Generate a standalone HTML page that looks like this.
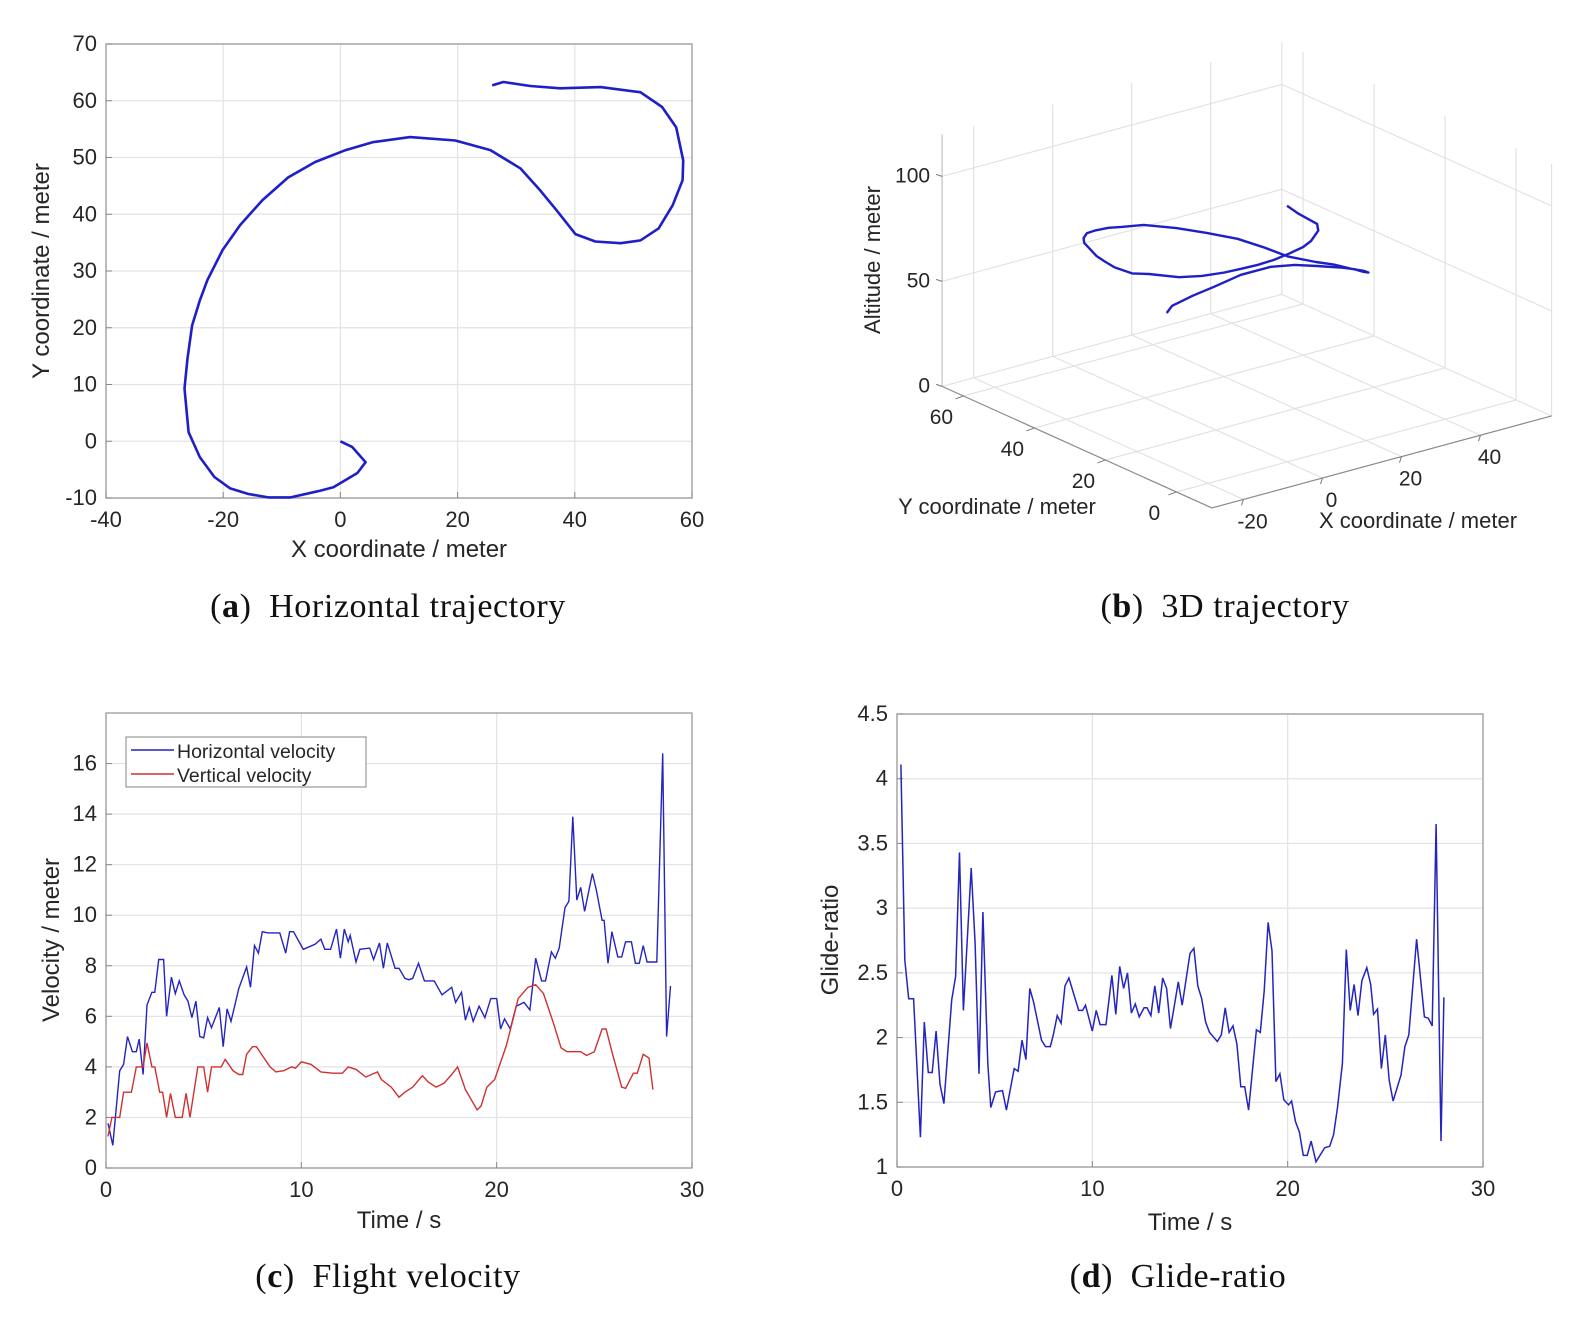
<!DOCTYPE html>
<html><head><meta charset="utf-8"><style>
html,body{margin:0;padding:0;background:#fff}
svg{display:block}
text{font-family:"Liberation Sans",sans-serif;fill:#262626}
.cap{font-family:"Liberation Serif",serif;font-size:34px;fill:#111;letter-spacing:0.6px}
</style></head><body>
<svg id="fig" width="1587" height="1334" viewBox="0 0 1587 1334" xmlns="http://www.w3.org/2000/svg"></svg>
<script>
// ---- Panel (a) horizontal trajectory data ----
const trajX=[0,2,4.3,2.9,-1.2,-3.8,-8.5,-12.3,-15.7,-18.8,-21.5,-24,-25.9,-26.6,-26.1,-25.3,-24,-22.7,-20.1,-17.1,-13.3,-8.9,-4.3,0.9,5.5,11.9,19.6,25.6,30.7,34.1,36.9,40.1,43.5,47.8,51.2,54.3,56.7,58.4,58.5,57.3,54.9,51.2,44.4,37.5,32.4,27.8,25.9];
const trajY=[0,-1,-3.7,-5.6,-8.1,-8.8,-9.9,-9.9,-9.3,-8.3,-6.3,-2.8,1.6,9.3,14.6,20.4,24.8,28.4,33.7,38.1,42.5,46.5,49.2,51.3,52.7,53.6,53,51.3,48.1,44.2,40.7,36.5,35.2,34.9,35.4,37.5,41.6,46,49.5,55.3,58.9,61.5,62.4,62.2,62.6,63.3,62.7];
const trajZ=[122,118,114,113,112,111,111,110,109,108,106,103,100,96,92,90,89,88,87,84,81,78,75,72,69,66,61,57,54,51,48,47,45,41,38,34,30,27,25,22,21,20,19,17,15,12,10];
const aXTicks=[-40,-20,0,20,40,60];
const aYTicks=[-10,0,10,20,30,40,50,60,70];
// ---- Panel (b) ticks ----
const bXTicks=[-20,0,20,40];
const bYTicks=[0,20,40,60];
const bZTicks=[0,50,100];
// ---- Panel (c) velocity data ----
const hvT=[0.1,0.35,0.7,0.9,1.1,1.35,1.55,1.7,1.9,2.1,2.35,2.5,2.7,2.95,3.1,3.35,3.55,3.75,4.0,4.2,4.4,4.6,4.8,5.0,5.2,5.4,5.8,6.0,6.2,6.4,6.8,7.2,7.4,7.6,7.8,8.0,8.3,8.9,9.2,9.4,9.6,10.1,10.7,11.0,11.2,11.5,11.8,12.0,12.2,12.4,12.5,12.8,13.0,13.5,13.7,14.0,14.2,14.4,14.8,15.0,15.3,15.5,15.7,16.0,16.3,16.8,17.2,17.7,17.9,18.2,18.4,18.6,18.8,19.1,19.4,19.7,20.0,20.2,20.4,20.7,21.0,21.4,21.7,22.0,22.3,22.5,22.8,23.0,23.2,23.5,23.7,23.9,24.1,24.3,24.5,24.9,25.1,25.4,25.5,25.7,25.9,26.2,26.4,26.6,26.9,27.1,27.3,27.5,27.7,28.2,28.5,28.7,28.9];
const hvV=[1.77,0.9,3.85,4.1,5.2,4.6,4.6,5.1,3.7,6.45,6.95,6.95,8.25,8.25,6.0,7.55,6.9,7.4,6.85,6.6,5.95,6.6,5.2,5.15,5.95,5.55,6.35,4.8,6.3,5.8,7.1,7.95,7.15,8.8,8.5,9.35,9.3,9.3,8.5,9.35,9.35,8.65,8.85,9.05,8.65,8.65,9.45,8.3,9.45,8.95,9.2,8.15,8.65,8.7,8.25,8.9,7.9,8.9,7.9,7.9,7.5,7.45,7.5,8.1,7.4,7.4,6.85,7.15,6.55,6.95,5.85,6.35,5.8,6.4,5.95,6.7,6.7,5.5,5.9,5.5,6.4,6.55,6.25,8.3,7.4,7.4,8.55,8.3,8.7,10.3,10.55,13.9,10.6,11.1,10.15,11.65,11.0,9.8,9.8,8.1,9.35,8.35,8.35,8.95,8.95,8.1,8.1,8.8,8.15,8.15,16.4,5.2,7.2];
const vvT=[0.1,0.3,0.7,0.9,1.3,1.55,1.9,2.1,2.35,2.5,2.75,2.9,3.1,3.3,3.55,3.9,4.1,4.3,4.7,5.0,5.2,5.4,5.9,6.1,6.5,6.8,7.0,7.2,7.5,7.7,8.0,8.4,8.7,9.1,9.5,9.7,10.0,10.5,11.0,11.6,12.1,12.4,12.8,13.3,13.9,14.1,14.6,15.0,15.3,15.7,16.2,16.5,16.9,17.3,17.7,18.0,18.4,19.0,19.2,19.5,19.9,20.5,21.1,21.6,22.0,22.4,22.9,23.3,23.6,23.9,24.3,24.6,25.0,25.4,25.6,25.9,26.4,26.6,27.0,27.2,27.5,27.8,28.0];
const vvV=[1.25,2.0,2.0,3.0,3.0,4.0,4.0,4.95,4.0,4.0,3.0,3.0,2.0,2.95,2.0,2.0,2.95,2.0,4.0,4.0,3.0,4.0,4.0,4.3,3.85,3.7,3.7,4.5,4.8,4.8,4.45,4.0,3.8,3.85,4.0,3.95,4.2,4.1,3.8,3.75,3.75,4.0,3.9,3.6,3.8,3.5,3.2,2.8,3.0,3.2,3.65,3.4,3.2,3.35,3.7,4.0,3.1,2.3,2.45,3.2,3.5,4.85,6.7,7.15,7.25,6.9,5.75,4.75,4.6,4.6,4.6,4.45,4.6,5.5,5.5,4.6,3.2,3.15,3.75,3.75,4.5,4.35,3.1];
const cXTicks=[0,10,20,30];
const cYTicks=[0,2,4,6,8,10,12,14,16];
// ---- Panel (d) glide ratio data ----
const grT=[0.2,0.4,0.6,0.85,1.2,1.4,1.6,1.8,2.0,2.2,2.4,2.8,3.0,3.2,3.4,3.8,4.0,4.2,4.4,4.65,4.8,5.05,5.4,5.6,6.0,6.2,6.4,6.6,6.8,7.0,7.4,7.6,7.85,8.0,8.2,8.4,8.6,8.8,9.3,9.5,9.65,10.0,10.2,10.4,10.7,11.0,11.2,11.4,11.6,11.8,12.0,12.2,12.4,12.65,12.8,13.0,13.2,13.4,13.6,13.8,14.0,14.2,14.4,14.6,15.0,15.2,15.4,15.6,15.8,16.0,16.4,16.6,16.8,17.0,17.2,17.4,17.6,17.8,18.0,18.4,18.6,18.8,19.0,19.2,19.4,19.6,19.8,20.05,20.2,20.4,20.6,20.8,21.0,21.2,21.45,21.9,22.15,22.35,22.55,22.8,23.0,23.2,23.4,23.6,23.8,24.05,24.25,24.4,24.6,24.8,25.0,25.2,25.4,25.8,26.0,26.2,26.6,27.0,27.2,27.4,27.6,27.85,28.0];
const grV=[4.11,2.6,2.3,2.3,1.23,2.12,1.73,1.73,2.05,1.64,1.49,2.29,2.47,3.43,2.21,3.31,2.73,1.72,2.97,1.8,1.46,1.58,1.59,1.44,1.76,1.74,1.98,1.83,2.38,2.27,1.98,1.93,1.93,2.02,2.17,2.11,2.4,2.46,2.21,2.21,2.25,2.05,2.21,2.1,2.1,2.48,2.18,2.55,2.38,2.5,2.19,2.26,2.16,2.23,2.23,2.17,2.4,2.19,2.46,2.38,2.07,2.25,2.43,2.25,2.65,2.69,2.4,2.3,2.12,2.04,1.97,2.02,2.23,2.04,2.09,1.95,1.62,1.62,1.44,2.06,2.04,2.36,2.89,2.67,1.66,1.72,1.52,1.48,1.51,1.35,1.27,1.09,1.09,1.2,1.04,1.15,1.16,1.25,1.46,1.8,2.68,2.21,2.41,2.17,2.44,2.54,2.41,2.18,2.22,1.76,2.02,1.67,1.51,1.71,1.93,2.02,2.76,2.16,2.15,2.09,3.65,1.2,2.31];
const dXTicks=[0,10,20,30];
const dYTicks=[1,1.5,2,2.5,3,3.5,4,4.5];

const NS="http://www.w3.org/2000/svg";
const svg=document.getElementById('fig');
function mk(tag,attrs,parent,txt){const e=document.createElementNS(NS,tag);for(const k in attrs)e.setAttribute(k,attrs[k]);if(txt!==undefined)e.textContent=txt;(parent||svg).appendChild(e);return e;}
function lin(d0,d1,p0,p1){return v=>p0+(v-d0)*(p1-p0)/(d1-d0);}
function ptsOf(xs,ys,fx,fy){return xs.map((v,i)=>fx(v).toFixed(1)+','+fy(ys[i]).toFixed(1)).join(' ');}

function axes2d(name,L,R,T,B,fx,fy,xt,yt){
  const g=mk('g',{});
  
  
  mk('rect',{x:L,y:T,width:R-L,height:B-T,fill:'#fff'},g);
  xt.forEach(v=>{const l=mk('line',{x1:fx(v),x2:fx(v),y1:T,y2:B,stroke:'#e3e3e3','stroke-width':1.2},g);
    });
  yt.forEach(v=>{const l=mk('line',{x1:L,x2:R,y1:fy(v),y2:fy(v),stroke:'#e3e3e3','stroke-width':1.2},g);
    });
  const b=mk('rect',{x:L,y:T,width:R-L,height:B-T,fill:'none',stroke:'#9a9a9a','stroke-width':1.3},g);
  
  xt.forEach(v=>{const t=mk('text',{x:fx(v),y:B+29,'text-anchor':'middle','font-size':22},g,String(v));
    
    mk('line',{x1:fx(v),x2:fx(v),y1:B,y2:B-6,stroke:'#888'},g);});
  yt.forEach(v=>{const t=mk('text',{x:L-9,y:fy(v)+7,'text-anchor':'end','font-size':22},g,String(v));
    
    mk('line',{x1:L,x2:L+6,y1:fy(v),y2:fy(v),stroke:'#888'},g);});
  return g;
}
function label(txt,x,y,rot,name,size){
  const t=mk('text',{x:x,y:y,'text-anchor':'middle','font-size':size||24,transform:rot?`rotate(-90 ${x} ${y})`:''},svg,txt);
  
}
function caption(letter,rest,x,y,name){
  const t=mk('text',{x:x,y:y,'text-anchor':'middle',class:'cap'});
  
  mk('tspan',{},t,'(');mk('tspan',{'font-weight':'bold'},t,letter);mk('tspan',{},t,')\u2002'+rest);
}

// ===== Panel (a) =====
const axX=lin(-40,60,106,692), axY=lin(-10,70,498,44);
axes2d('horizontal-trajectory',106,692,44,498,axX,axY,aXTicks,aYTicks);
const pa=mk('polyline',{points:ptsOf(trajX,trajY,axX,axY),fill:'none',stroke:'#1f1fc8','stroke-width':2.6,'stroke-linejoin':'round'});


label('X coordinate / meter',399,557,false,'x-axis-title-a');
label('Y coordinate / meter',49,271,true,'y-axis-title-a');
caption('a','Horizontal trajectory',388,617,'caption-a');

// ===== Panel (b) 3D =====
const O=[1287,462], ex=[3.95,-1.07], ey=[-3.55,-1.6], ez=[0,-2.1];
const xr=[-28,58], yr=[-10,66], zr=[0,120];
function P(x,y,z){return [O[0]+x*ex[0]+y*ey[0]+z*ez[0], O[1]+x*ex[1]+y*ey[1]+z*ez[1]];}
function seg(a,b,col,w,name){const l=mk('line',{x1:a[0],y1:a[1],x2:b[0],y2:b[1],stroke:col,'stroke-width':w});
  }
const gc='#e0e0e0';
bXTicks.forEach(v=>{seg(P(v,yr[0],0),P(v,yr[1],0),gc,1.1,'floor-gridline');seg(P(v,yr[1],0),P(v,yr[1],zr[1]),gc,1.1,'back-wall-gridline');});
bYTicks.forEach(v=>{seg(P(xr[0],v,0),P(xr[1],v,0),gc,1.1,'floor-gridline');seg(P(xr[1],v,0),P(xr[1],v,zr[1]),gc,1.1,'side-wall-gridline');});
bZTicks.forEach(v=>{seg(P(xr[0],yr[1],v),P(xr[1],yr[1],v),gc,1.1,'back-wall-gridline');seg(P(xr[1],yr[1],v),P(xr[1],yr[0],v),gc,1.1,'side-wall-gridline');});
seg(P(xr[0],yr[1],0),P(xr[0],yr[1],zr[1]),'#bdbdbd',1.1,'z-axis-line');
seg(P(xr[1],yr[1],0),P(xr[1],yr[1],zr[1]),gc,1.1,'back-corner-line');
seg(P(xr[1],yr[0],0),P(xr[1],yr[0],zr[1]),gc,1.1,'right-corner-line');
seg(P(xr[0],yr[0],0),P(xr[1],yr[0],0),'#8a8a8a',1.2,'x-axis-line');
seg(P(xr[0],yr[0],0),P(xr[0],yr[1],0),'#8a8a8a',1.2,'y-axis-line');
bXTicks.forEach(v=>{const p=P(v,yr[0],0);seg(p,[p[0]-2,p[1]+6],'#777',1,'x-tick');
  const t=mk('text',{x:p[0]+9,y:p[1]+29,'text-anchor':'middle','font-size':21},svg,String(v));
  });
bYTicks.forEach(v=>{const p=P(xr[0],v,0);seg(p,[p[0]-8,p[1]+3],'#777',1,'y-tick');
  const t=mk('text',{x:p[0]-22,y:p[1]+28,'text-anchor':'middle','font-size':21},svg,String(v));
  });
bZTicks.forEach(v=>{const p=P(xr[0],yr[1],v);seg(p,[p[0]-6,p[1]-2],'#777',1,'z-tick');
  const t=mk('text',{x:p[0]-12,y:p[1]+6,'text-anchor':'end','font-size':21},svg,String(v));
  });
const p3=mk('polyline',{points:trajX.map((x,i)=>{const p=P(x,trajY[i],trajZ[i]);return p[0].toFixed(1)+','+p[1].toFixed(1);}).join(' '),fill:'none',stroke:'#1f1fc8','stroke-width':2.4,'stroke-linejoin':'round'});


label('Altitude / meter',880,260,true,'z-axis-title-b',22);
label('Y coordinate / meter',997,514,false,'y-axis-title-b',22);
label('X coordinate / meter',1418,528,false,'x-axis-title-b',22);
caption('b','3D trajectory',1225,617,'caption-b');

// ===== Panel (c) =====
const cx=lin(0,30,106,692), cy=lin(0,18,1168,713);
axes2d('flight-velocity',106,692,713,1168,cx,cy,cXTicks,cYTicks);
const ph=mk('polyline',{points:ptsOf(hvT,hvV,cx,cy),fill:'none',stroke:'#2424c0','stroke-width':1.4});


const pv=mk('polyline',{points:ptsOf(vvT,vvV,cx,cy),fill:'none',stroke:'#d03030','stroke-width':1.4});


const lg=mk('g',{});


mk('rect',{x:126,y:737,width:240,height:50,fill:'#fff',stroke:'#999','stroke-width':1.2},lg);
mk('line',{x1:131,x2:174,y1:750,y2:750,stroke:'#2424c0','stroke-width':1.4},lg);
mk('line',{x1:131,x2:174,y1:774,y2:774,stroke:'#d03030','stroke-width':1.4},lg);
const l1=mk('text',{x:177,y:758,'font-size':19.5},lg,'Horizontal velocity');

const l2=mk('text',{x:177,y:782,'font-size':19.5},lg,'Vertical velocity');

label('Time / s',399,1228,false,'x-axis-title-c');
label('Velocity / meter',59,940,true,'y-axis-title-c');
caption('c','Flight velocity',388,1287,'caption-c');

// ===== Panel (d) =====
const dx=lin(0,30,897,1483), dy=lin(1,4.5,1167,714);
axes2d('glide-ratio',897,1483,714,1167,dx,dy,dXTicks,dYTicks);
const pg=mk('polyline',{points:ptsOf(grT,grV,dx,dy),fill:'none',stroke:'#2424c0','stroke-width':1.5});


label('Time / s',1190,1230,false,'x-axis-title-d');
label('Glide-ratio',838,940,true,'y-axis-title-d');
caption('d','Glide-ratio',1178,1287,'caption-d');
</script>
</body></html>
